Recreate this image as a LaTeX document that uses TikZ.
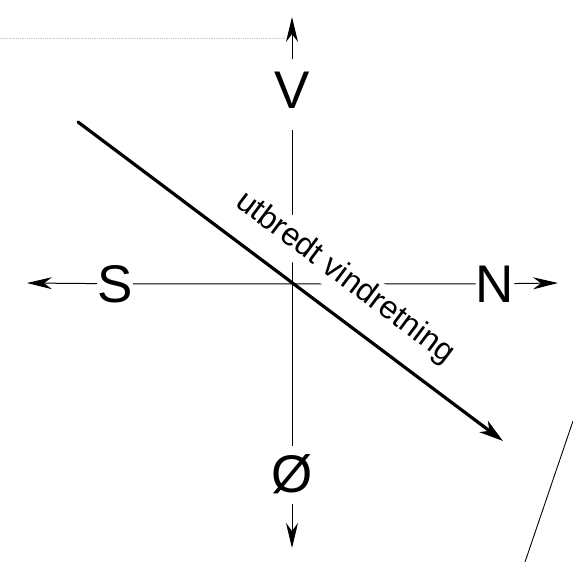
\documentclass[tikz,border=0pt]{standalone}
\usepackage{fontspec}
\setmainfont{Liberation Sans}
\usepackage{tikz}
\usetikzlibrary{arrows.meta,positioning}
\definecolor{ink}{HTML}{000000}

\begin{document}
\begin{tikzpicture}[x=1pt, y=-1pt, >={Stealth[length=25pt,width=12pt,inset=8pt]},
  ax/.style={draw=ink, line width=1pt},
  lb/.style={font=\fontsize{53}{53}\selectfont, inner xsep=0pt, anchor=base},
  w/.style={draw=ink, line width=3.2pt, line cap=round, -{Stealth[length=24pt,width=14pt,inset=7pt]}}]
\useasboundingbox (0,0) rectangle (573,562);
% end points
\coordinate (vtip) at (292,17);
\coordinate (otip) at (292,548);
\coordinate (stip) at (27,283);
\coordinate (ntip) at (558,283);
\coordinate (w0) at (78,122);
\coordinate (w1) at (503,441);
\coordinate (g0) at (0,38);
\coordinate (g1) at (287,38);
\coordinate (k0) at (525,562);
\coordinate (k1) at (573,421);
% compass labels
\node[lb, text depth=10pt, inner ysep=12pt] (V) at (292,108) {V};
\node[lb, text depth=4pt, inner ysep=8pt] (Oe) at (292,492) {Ø};
\node[lb, inner ysep=2pt] (S) at (115,302) {S};
\node[lb, inner ysep=2pt] (N) at (495,302) {N};
% axes
\draw[ax, ->] (V) -- (vtip);
\draw[ax] (V) -- (Oe);
\draw[ax, ->] (Oe) -- (otip);
\draw[ax, ->] (S) -- (stip);
\draw[ax] (S) -- (N);
\draw[ax, ->] (N) -- (ntip);
% wind direction
\draw[w] (w0) -- (w1);
\node[rotate=-36.87, fill=white, inner sep=4pt, font=\fontsize{32}{33}\selectfont] (txt) at (345,278) {utbredt vindretning};
% stray lines
\draw[gray!45, densely dotted, line width=0.8pt] (g0) -- (g1);
\draw[ink, line width=0.9pt] (k0) -- (k1);
\end{tikzpicture}
\end{document}
